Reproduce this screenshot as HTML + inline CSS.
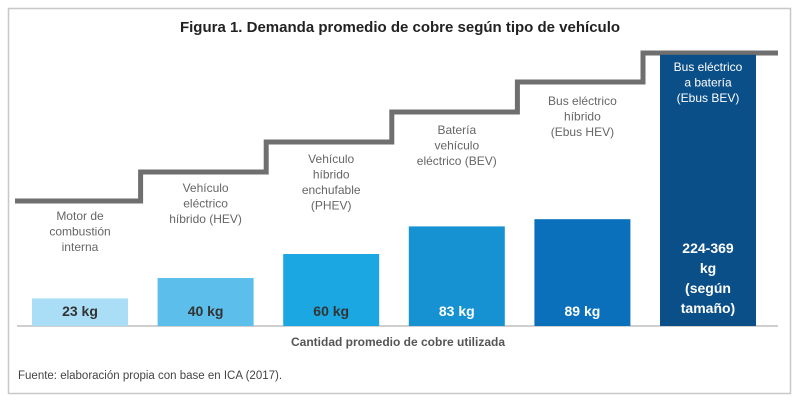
<!DOCTYPE html>
<html><head><meta charset="utf-8"><style>
html,body{margin:0;padding:0;background:#fff;}
body{width:800px;height:401px;overflow:hidden;font-family:"Liberation Sans",sans-serif;}
</style></head><body>
<svg id="chart" width="800" height="401" xmlns="http://www.w3.org/2000/svg" font-family="Liberation Sans, sans-serif">
<rect x="8.5" y="8.5" width="782" height="385" fill="#fff" stroke="#c8c8c8" stroke-width="1.5"/>
<text x="400" y="32" text-anchor="middle" font-size="15" font-weight="bold" fill="#222">Figura 1. Demanda promedio de cobre según tipo de vehículo</text>
<g id="steps"></g>
<line x1="17" y1="326" x2="778" y2="326" stroke="#cfcfcf" stroke-width="2"/>
<g id="bars"></g>
<text x="398" y="346" text-anchor="middle" font-size="12" font-weight="bold" fill="#555">Cantidad promedio de cobre utilizada</text>
<text x="18" y="379" font-size="11.5" fill="#444">Fuente: elaboración propia con base en ICA (2017).</text>
</svg>
<script>
const categories=[["Motor de","combustión","interna"],["Vehículo","eléctrico","híbrido (HEV)"],["Vehículo","híbrido","enchufable","(PHEV)"],["Batería","vehículo","eléctrico (BEV)"],["Bus eléctrico","híbrido","(Ebus HEV)"],["Bus eléctrico","a batería","(Ebus BEV)"]];
const values=[23,40,60,83,89,226];
const valueLabels=[["23 kg"],["40 kg"],["60 kg"],["83 kg"],["89 kg"],["224-369","kg","(según","tamaño)"]];
const colors=["#a9def6","#5cbeea","#1ba8e2","#1692d3","#0a70bb","#0b4f88"];
const labelColors=["#333","#333","#333","#fff","#fff","#fff"];
const stepLevels=[201,172,142,112,82,53];
const NS="http://www.w3.org/2000/svg";
const baseY=326, kgPx=1.2, x0=32, slot=125.6, bw=96;
const xPos=i=>x0+i*slot;
const yPos=v=>baseY-v*kgPx;
function mk(t,a,p){const e=document.createElementNS(NS,t);for(const k in a)e.setAttribute(k,a[k]);p.appendChild(e);return e;}
const bars=document.getElementById('bars');
values.forEach((v,i)=>{
  const r=mk('rect',{x:xPos(i),y:yPos(v),width:bw,height:v*kgPx,fill:colors[i]},bars);
  
  
  const cx=xPos(i)+bw/2;
  const vl=valueLabels[i];
  const vt=mk('text',{x:cx,'text-anchor':'middle','font-size':14,'font-weight':'bold',fill:labelColors[i]},bars);
  
  
  const startY=i===5?253:316;
  vl.forEach((s,j)=>{const ts=mk('tspan',{x:cx,y:startY+j*20},vt);ts.textContent=s;});
  const lines=categories[i];
  const inside=i===5;
  const ct=mk('text',{x:cx,'text-anchor':'middle','font-size':12,fill:inside?'#fff':'#666'},bars);
  
  
  const top=inside?71:(i===0?220:[0,192,163,134,105][i]);
  lines.forEach((s,j)=>{const ts=mk('tspan',{x:cx,y:top+j*15.5},ct);ts.textContent=s;});
});
const steps=document.getElementById('steps');
let d='M15 '+stepLevels[0];
stepLevels.forEach((y,i)=>{const xe=i<5?xPos(i)+slot-17+ (i===0?0:0):777; if(i>0)d+=' L'+(xPos(i)-17+ (i===0?0:0))+' '+y; d+=' L'+(i<5?xPos(i+1)-17:778)+' '+y;});
const p=mk('path',{d:d,fill:'none',stroke:'#6f6f6f','stroke-width':5,'stroke-linejoin':'miter'},steps);


</script>
</body></html>
